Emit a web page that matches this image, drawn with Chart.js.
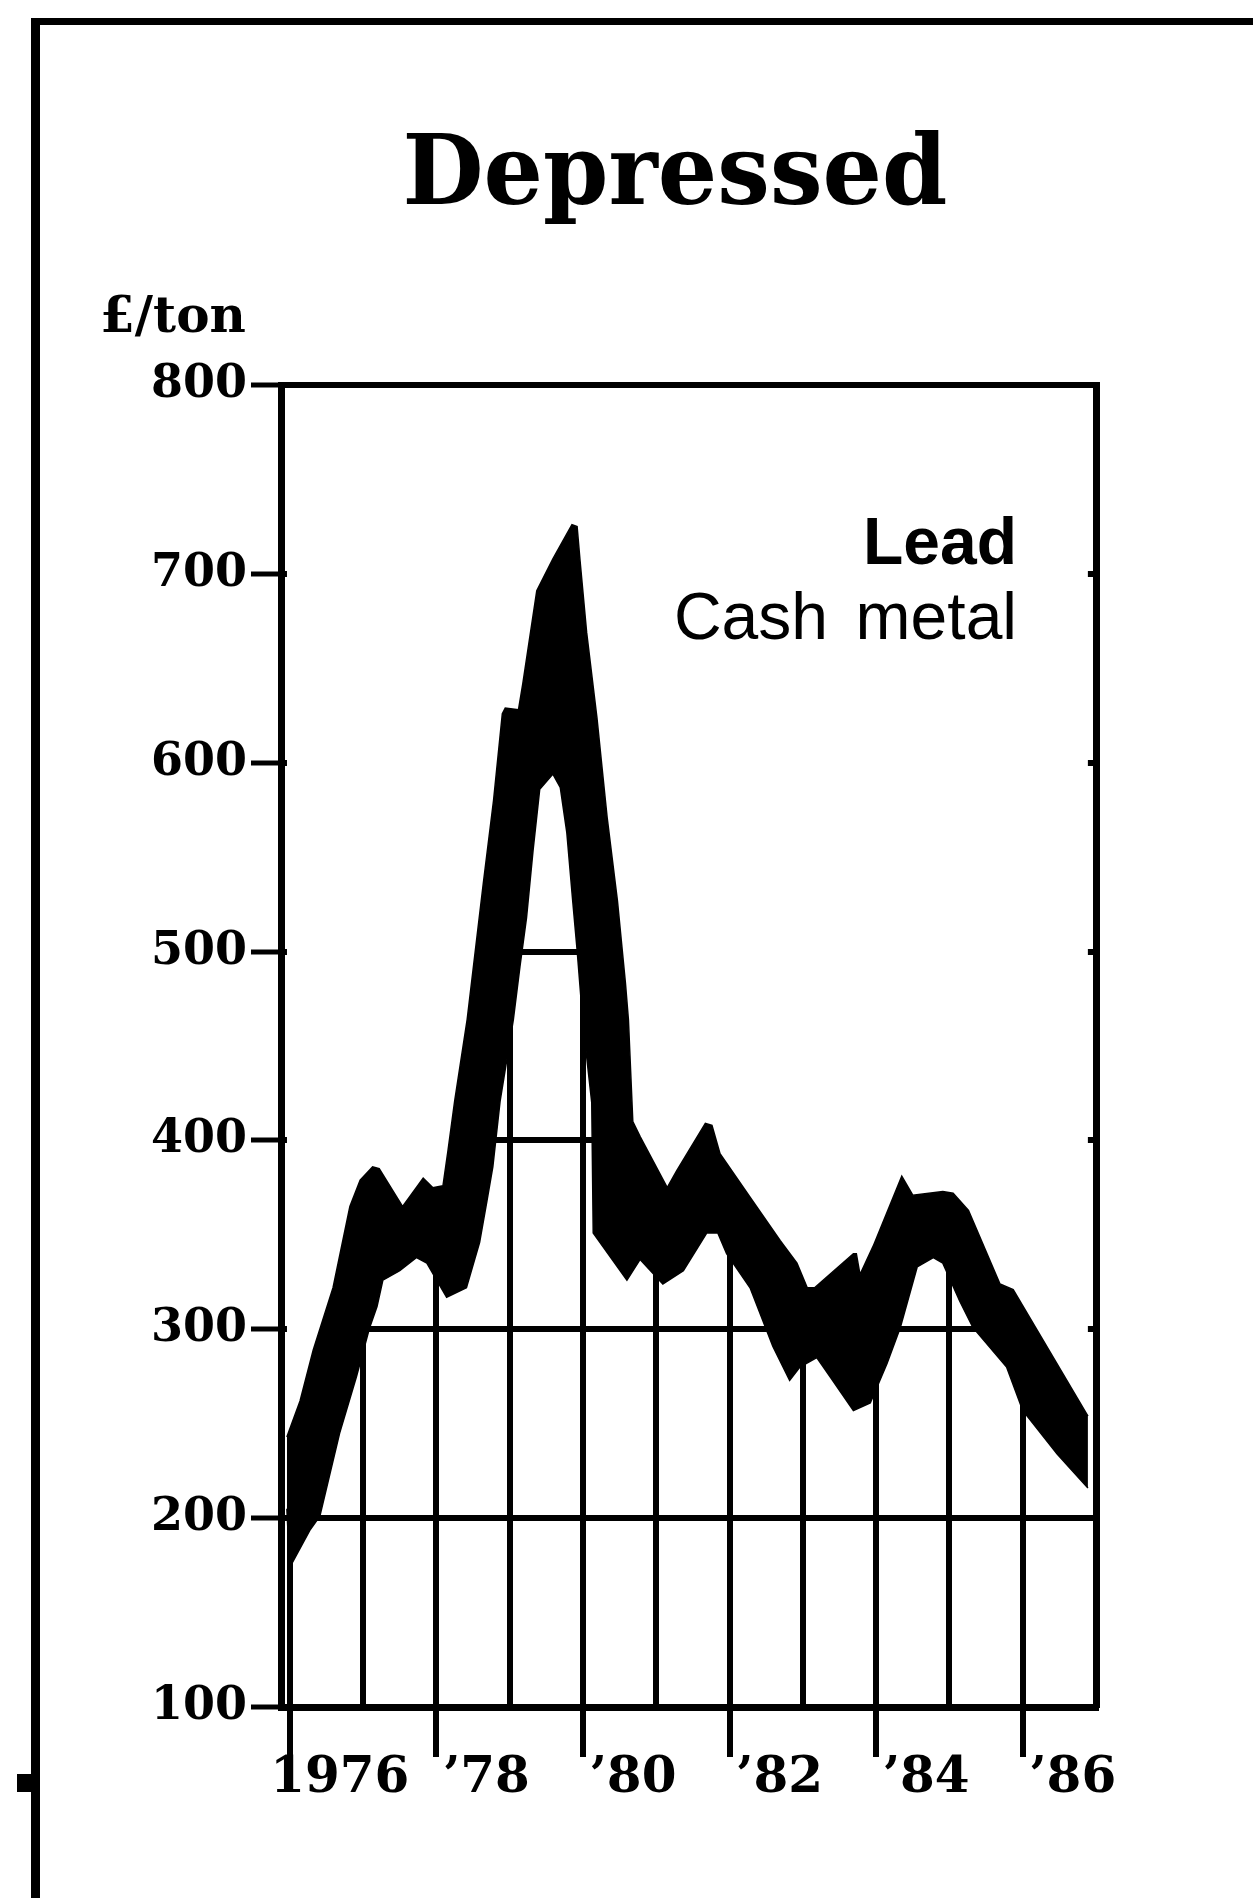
<!DOCTYPE html>
<html>
<head>
<meta charset="utf-8">
<title>Depressed</title>
<script src="https://cdn.jsdelivr.net/npm/chart.js@4.4.1/dist/chart.umd.min.js"></script>
<style>
  html, body { margin: 0; padding: 0; background: #fff; }
  #page { position: relative; width: 1253px; height: 1898px; overflow: hidden; background: #fff; }
  canvas { position: absolute; left: 0; top: 0; }
  #frameTop { position: absolute; left: 31px; top: 18px; width: 1222px; height: 7px; background: #000; }
  #frameLeft { position: absolute; left: 31px; top: 18px; width: 9px; height: 1880px; background: #000; }
  #blot { position: absolute; left: 17px; top: 1774px; width: 16px; height: 18px; background: #000; }
</style>
</head>
<body>
<div id="page">
  <canvas id="leadChart" width="1253" height="1898"></canvas>
  <div id="frameTop"></div>
  <div id="frameLeft"></div>
  <div id="blot"></div>
</div>
<script>
// Lead, cash metal, £/ton. The chart draws a thick band, so keep its top and bottom edge
const upperYears = [1975.96, 1976.14, 1976.32, 1976.59, 1976.82, 1976.96, 1977.13, 1977.22, 1977.54, 1977.82,
    1977.95, 1978.09, 1978.16, 1978.25, 1978.42, 1978.64, 1978.78, 1978.9, 1978.94, 1979.12,
    1979.18, 1979.37, 1979.59, 1979.85, 1979.92, 1979.96, 1980.05, 1980.19, 1980.33, 1980.47,
    1980.58, 1980.62, 1980.68, 1980.78, 1981.15, 1981.28, 1981.67, 1981.76, 1981.87, 1982.28,
    1982.69, 1982.92, 1983.06, 1983.16, 1983.69, 1983.73, 1983.78, 1983.96, 1984.35, 1984.5,
    1984.91, 1985.05, 1985.26, 1985.69, 1985.87, 1986.89];
const upperPrices = [243, 262, 289, 322, 365, 379, 386, 385, 365, 380,
    375, 376, 395, 421, 464, 536, 580, 626, 629, 628,
    642, 691, 708, 726, 725, 707, 669, 624, 571, 527,
    483, 464, 410, 402, 375, 384, 409, 408, 393, 370,
    347, 335, 322, 322, 340, 340, 329, 344, 381, 371,
    373, 372, 363, 324, 321, 254];

const lowerYears = [1975.96, 1976.0, 1976.28, 1976.41, 1976.68, 1976.91, 1977.09, 1977.19, 1977.27, 1977.5,
    1977.73, 1977.87, 1978.14, 1978.41, 1978.59, 1978.69, 1978.77, 1978.87, 1979.05, 1979.14,
    1979.23, 1979.32, 1979.41, 1979.59, 1979.69, 1979.78, 1979.86, 1979.92, 1980.0, 1980.12,
    1980.14, 1980.6, 1980.78, 1981.09, 1981.37, 1981.69, 1981.84, 1981.96, 1982.28, 1982.59,
    1982.82, 1982.96, 1983.19, 1983.37, 1983.69, 1983.92, 1984.15, 1984.33, 1984.56, 1984.78,
    1984.91, 1985.14, 1985.32, 1985.78, 1986.0, 1986.47, 1986.89];
const lowerPrices = [205, 174, 194, 201, 245, 275, 301, 312, 326, 331,
    338, 335, 317, 322, 346, 368, 386, 421, 464, 492,
    518, 554, 586, 594, 587, 563, 527, 501, 462, 420,
    351, 326, 337, 324, 331, 351, 351, 340, 322, 291,
    273, 280, 285, 275, 257, 261, 282, 301, 333, 338,
    335, 315, 301, 280, 257, 234, 216];

const gridYears = [1976, 1977, 1978, 1979, 1980, 1981, 1982, 1983, 1984, 1985, 1986, 1987];
const labelYears = [1976, 1978, 1980, 1982, 1984, 1986];
const yearLabels = ['1976', '\u201978', '\u201980', '\u201982', '\u201984', '\u201986'];
const priceTicks = [100, 200, 300, 400, 500, 600, 700, 800];

const toPoints = (xs, ys) => xs.map((x, i) => ({ x: x, y: ys[i] }));

// headline, unit and key are plain canvas text
const captions = {
    id: 'captions',
    afterDraw(chart) {
        const ctx = chart.ctx;
        ctx.save();
        ctx.fillStyle = '#000';
        ctx.textBaseline = 'alphabetic';

        ctx.textAlign = 'center';
        ctx.font = 'bold 98px "DejaVu Serif"';
        ctx.fillText('Depressed', 675, 204, 545);

        ctx.textAlign = 'left';
        ctx.font = 'bold 50px "DejaVu Serif"';
        ctx.fillText('\u00a3/ton', 100, 332, 155);

        ctx.textAlign = 'right';
        ctx.font = 'bold 66px "Liberation Sans"';
        ctx.fillText('Lead', 1017, 564);
        ctx.font = '66px "Liberation Sans"';
        ctx.fillText('metal', 1017, 639);
        ctx.fillText('Cash', 828, 639);
        ctx.restore();
    }
};

new Chart(document.getElementById('leadChart'), {
    type: 'line',
    data: {
        datasets: [{
            label: 'High',
            data: toPoints(upperYears, upperPrices),
            borderColor: '#000',
            borderWidth: 1.5,
            pointRadius: 0,
            tension: 0,
            fill: 'end',
            backgroundColor: '#fff' // hides the grid above the band
        }, {
            label: 'Low',
            data: toPoints(lowerYears, lowerPrices),
            borderColor: '#000',
            borderWidth: 1.5,
            pointRadius: 0,
            tension: 0,
            fill: 0,
            backgroundColor: '#000'
        }]
    },
    options: {
        responsive: false,
        animation: false,
        devicePixelRatio: 1,
        layout: { padding: { left: 0, top: 385, right: 157, bottom: 71 } },
        plugins: {
            legend: { display: false },
            tooltip: { enabled: false },
            title: { display: false }
        },
        scales: {
            x: {
                type: 'linear',
                position: 'bottom',
                min: 1975.88,
                max: 1987,
                afterBuildTicks: s => { s.ticks = gridYears.map(v => ({ value: v })); },
                afterFit: s => { s.height = 120; },
                grid: {
                    color: '#000',
                    lineWidth: 6,
                    drawTicks: true,
                    tickLength: 50,
                    tickWidth: 6,
                    tickColor: c => (c.tick && labelYears.includes(c.tick.value)) ? '#000' : 'rgba(0,0,0,0)'
                },
                border: { display: true, color: '#000', width: 7, z: 1 },
                ticks: {
                    autoSkip: false,
                    maxRotation: 0,
                    padding: -8,
                    labelOffset: 50,
                    color: '#000',
                    font: { family: 'DejaVu Serif', size: 50, weight: 'bold' },
                    callback: v => {
                        const i = labelYears.indexOf(v);
                        return i < 0 ? '' : yearLabels[i];
                    }
                }
            },
            y: {
                type: 'linear',
                min: 100,
                max: 800,
                afterBuildTicks: s => { s.ticks = priceTicks.map(v => ({ value: v })); },
                afterFit: s => { s.width = 281; },
                grid: { color: '#000', lineWidth: 6, tickLength: 30, tickWidth: 5, tickColor: '#000' },
                border: { display: true, color: '#000', width: 7, z: 1 },
                ticks: {
                    padding: 4,
                    color: '#000',
                    font: { family: 'DejaVu Serif', size: 46, weight: 'bold' }
                }
            },
            xTop: {
                type: 'linear',
                position: 'top',
                min: 1975.88,
                max: 1987,
                grid: { display: false, drawTicks: false },
                ticks: { display: false },
                border: { display: true, color: '#000', width: 6, z: 1 },
                afterFit: s => { s.height = 0; }
            },
            yRight: {
                type: 'linear',
                position: 'right',
                min: 100,
                max: 800,
                grid: { display: false, drawTicks: false },
                ticks: { display: false },
                border: { display: true, color: '#000', width: 7, z: 1 },
                afterFit: s => { s.width = 0; }
            }
        }
    },
    plugins: [captions]
});
</script>
</body>
</html>
